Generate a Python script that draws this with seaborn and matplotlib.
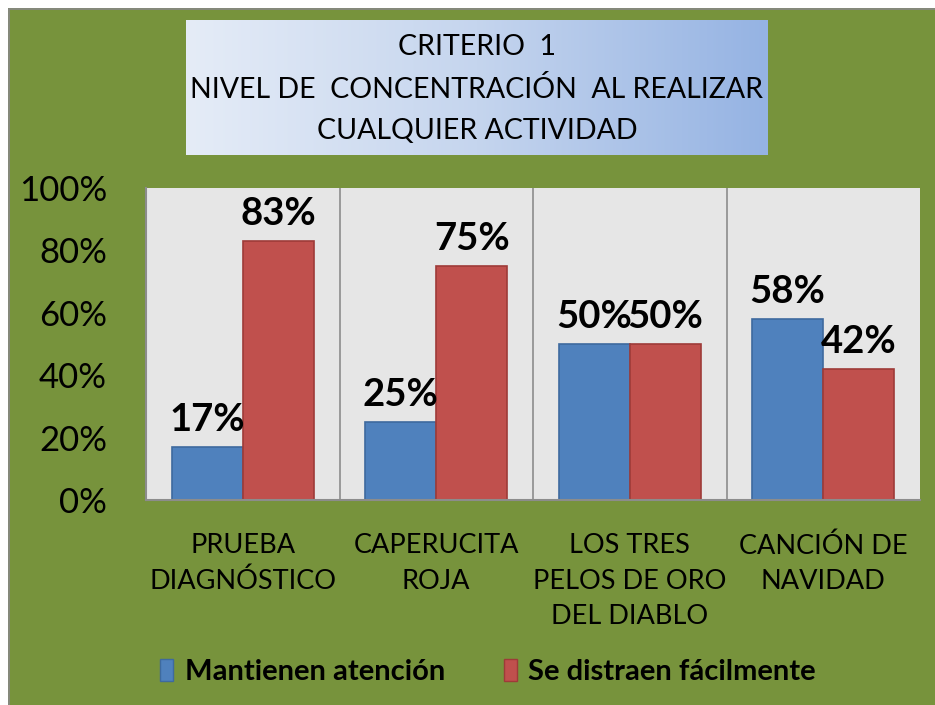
import numpy as np
import pandas as pd
import seaborn as sns
import matplotlib.pyplot as plt
from matplotlib.patches import Patch, Rectangle
from matplotlib.lines import Line2D
from matplotlib.colors import LinearSegmentedColormap

categorias = ["PRUEBA\nDIAGNÓSTICO", "CAPERUCITA\nROJA",
              "LOS TRES\nPELOS DE ORO\nDEL DIABLO", "CANCIÓN DE\nNAVIDAD"]
series = ["Mantienen atención", "Se distraen fácilmente"]
mantienen = [17, 25, 50, 58]
distraen = [83, 75, 50, 42]
yticks = [0, 20, 40, 60, 80, 100]

df = pd.DataFrame({
    "categoria": categorias * 2,
    "serie": [series[0]] * 4 + [series[1]] * 4,
    "valor": mantienen + distraen,
})

sns.set_style("white")
plt.rcParams["font.family"] = ["Lato", "DejaVu Sans"]
plt.rcParams["text.color"] = "black"
plt.rcParams["xtick.color"] = "black"
plt.rcParams["ytick.color"] = "black"

verde = "#77933C"
azul = "#4F81BD"
rojo = "#C0504D"
W, H = 935, 705

fig = plt.figure(figsize=(9.35, 7.05), dpi=100)
fig.patch.set_facecolor(verde)
# franjas blancas arriba e izquierda con borde gris
fig.patches.append(Rectangle((0, 0), 8 / W, 1, transform=fig.transFigure,
                             facecolor="white", lw=0))
fig.patches.append(Rectangle((0, 1 - 8 / H), 1, 8 / H, transform=fig.transFigure,
                             facecolor="white", lw=0))
fig.lines.append(Line2D([8.5 / W, 8.5 / W], [0, 1 - 8.5 / H], transform=fig.transFigure,
                        color="#888888", lw=1.2))
fig.lines.append(Line2D([8.5 / W, 1], [1 - 8.5 / H, 1 - 8.5 / H], transform=fig.transFigure,
                        color="#888888", lw=1.2))

# caja del titulo con degradado
tax = fig.add_axes([186 / W, 1 - 155 / H, 582 / W, 135 / H])
grad = LinearSegmentedColormap.from_list("g", ["#E5ECF7", "#C5D5EE", "#95B3E3"])
tax.imshow(np.linspace(0, 1, 256).reshape(1, -1), aspect="auto", cmap=grad,
           extent=[0, 1, 0, 1])
tax.set_xlim(0, 1)
tax.set_ylim(0, 1)
tax.axis("off")
tax.text(0.5, 0.49, "CRITERIO  1\nNIVEL DE  CONCENTRACIÓN  AL REALIZAR\nCUALQUIER ACTIVIDAD",
         ha="center", va="center", fontsize=20.5, linespacing=1.72)

ax = fig.add_axes([146 / W, 1 - 500 / H, 774 / W, 312 / H])
ax.set_facecolor("#E6E6E6")
sns.barplot(data=df, x="categoria", y="valor", hue="serie",
            palette=[azul, rojo], width=0.735, ax=ax, legend=False,
            saturation=1, linewidth=1.2)
for patch, ec in zip(ax.patches, ["#3E6A9E"] * 4 + ["#9E3B38"] * 4):
    patch.set_edgecolor(ec)

for cont in ax.containers:
    ax.bar_label(cont, labels=[f"{int(v)}%" for v in cont.datavalues],
                 padding=7, fontsize=27.5, fontweight="bold")

for xv in [0.5, 1.5, 2.5]:
    ax.axvline(xv, color="#8C8C8C", lw=1.2)

ax.set_xlim(-0.5, 3.5)
ax.set_ylim(0, 100)
ax.set_yticks(yticks)
ax.set_yticklabels([f"{v}%" for v in yticks], fontsize=25)
ax.tick_params(axis="y", length=0, pad=28)
ax.tick_params(axis="x", length=0, pad=24, labelsize=19.5)
for lbl in ax.get_xticklabels():
    lbl.set_linespacing(1.52)
ax.set_xlabel("")
ax.set_ylabel("")
for s in ["top", "right"]:
    ax.spines[s].set_visible(False)
for s in ["left", "bottom"]:
    ax.spines[s].set_color("#8C8C8C")
    ax.spines[s].set_linewidth(1.5)

handles = [Patch(facecolor=azul, edgecolor="#3E6A9E"),
           Patch(facecolor=rojo, edgecolor="#9E3B38")]
fig.legend(handles, series, loc="center", bbox_to_anchor=(0.522, 1 - 672 / H),
           ncol=2, frameon=False, prop={"weight": "bold", "size": 21},
           handlelength=0.45, handleheight=0.75, handletextpad=0.4, columnspacing=2.0)

fig.savefig("out.png", dpi=100, facecolor=verde)
